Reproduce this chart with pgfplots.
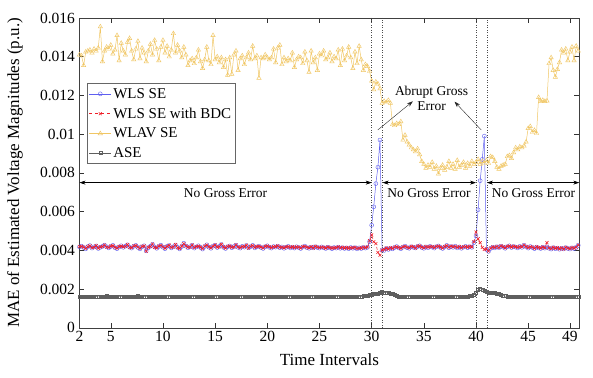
\documentclass[border=0pt]{standalone}
\usepackage{fontspec}
\setmainfont{Liberation Serif}
\usepackage{pgfplots}
\pgfplotsset{compat=1.18}
\usepackage{pgfplotstable}
\usetikzlibrary{arrows.meta}

\definecolor{wlsblue}{RGB}{95,95,240}
\definecolor{bdcred}{RGB}{240,30,40}
\definecolor{wlavyel}{RGB}{240,198,100}
\definecolor{asegray}{RGB}{95,95,95}

% values of the y columns in units of 1e-3 p.u.
\pgfplotstableread{
x wls bdc wlav ase
2.0 4.18 4.20 14.10 1.62
2.2 4.22 4.21 14.05 1.60
2.4 4.15 4.17 13.55 1.61
2.6 4.08 4.10 14.25 1.63
2.8 4.20 4.19 14.30 1.62
3.0 4.25 4.24 14.35 1.60
3.2 4.12 4.14 14.20 1.61
3.4 4.18 4.16 14.40 1.63
3.6 4.23 4.25 14.30 1.62
3.8 4.10 4.12 14.45 1.60
4.0 4.16 4.18 15.55 1.61
4.2 4.21 4.20 13.75 1.63
4.4 4.27 4.28 14.30 1.62
4.6 4.19 4.17 14.50 1.64
4.8 4.13 4.15 14.40 1.62
5.0 4.20 4.22 14.60 1.61
5.2 4.26 4.24 14.15 1.60
5.4 4.14 4.16 14.35 1.62
5.6 4.09 4.11 15.10 1.63
5.8 4.18 4.20 13.80 1.61
6.0 4.24 4.22 14.70 1.62
6.2 4.16 4.18 14.30 1.60
6.4 4.22 4.21 14.10 1.61
6.6 4.29 4.30 14.75 1.63
6.8 4.17 4.15 14.95 1.62
7.0 4.12 4.14 14.30 1.60
7.2 4.21 4.23 13.85 1.61
7.4 4.26 4.25 14.40 1.62
7.6 4.15 4.17 14.80 1.64
7.8 4.08 4.10 13.90 1.62
8.0 4.19 4.21 14.45 1.60
8.2 4.24 4.23 14.20 1.61
8.4 3.98 3.96 13.75 1.63
8.6 4.14 4.16 14.30 1.62
8.8 4.22 4.20 14.65 1.60
9.0 4.31 4.33 14.10 1.61
9.2 4.18 4.16 14.85 1.62
9.4 4.11 4.13 14.40 1.60
9.6 4.20 4.22 13.80 1.61
9.8 4.27 4.26 14.50 1.63
10.0 4.17 4.19 14.85 1.62
10.2 4.09 4.11 14.20 1.61
10.4 4.21 4.20 14.55 1.60
10.6 4.25 4.27 14.00 1.62
10.8 4.13 4.15 14.35 1.61
11.0 4.19 4.18 15.20 1.63
11.2 4.28 4.30 14.20 1.62
11.4 4.16 4.14 14.60 1.60
11.6 4.08 4.10 14.30 1.61
11.8 4.20 4.22 13.95 1.62
12.0 4.37 4.35 14.50 1.61
12.2 4.22 4.24 14.10 1.63
12.4 4.14 4.16 13.55 1.62
12.6 4.19 4.17 13.80 1.60
12.8 4.26 4.28 13.90 1.61
13.0 4.12 4.14 13.65 1.62
13.2 4.18 4.20 13.95 1.61
13.4 4.24 4.22 14.35 1.60
13.6 4.15 4.17 13.75 1.62
13.8 4.07 4.09 13.40 1.61
14.0 4.20 4.22 13.85 1.63
14.2 4.29 4.28 14.50 1.62
14.4 4.17 4.19 13.80 1.60
14.6 4.11 4.13 13.60 1.61
14.8 4.22 4.21 15.10 1.62
15.0 4.26 4.28 13.85 1.61
15.2 4.15 4.17 14.00 1.60
15.4 4.21 4.19 13.70 1.62
15.6 4.30 4.32 13.95 1.61
15.8 4.16 4.18 13.45 1.60
16.0 4.10 4.12 13.85 1.62
16.2 4.19 4.21 13.05 1.61
16.4 4.23 4.22 13.95 1.63
16.6 4.14 4.16 13.10 1.62
16.8 4.20 4.18 14.10 1.60
17.0 4.27 4.29 14.30 1.61
17.2 4.16 4.18 13.30 1.62
17.4 4.12 4.14 13.90 1.61
17.6 4.21 4.20 14.05 1.60
17.8 4.17 4.19 13.60 1.62
18.0 4.25 4.27 13.95 1.61
18.2 4.14 4.12 14.20 1.60
18.4 4.19 4.21 13.85 1.62
18.6 4.26 4.25 14.55 1.61
18.8 4.13 4.15 13.90 1.60
19.0 4.18 4.20 14.05 1.62
19.2 4.22 4.21 12.90 1.61
19.4 4.15 4.17 13.95 1.60
19.6 4.10 4.12 13.90 1.62
19.8 4.19 4.21 14.10 1.61
20.0 4.24 4.23 13.95 1.60
20.2 4.16 4.18 13.85 1.61
20.4 4.12 4.14 13.95 1.62
20.6 4.20 4.19 14.40 1.61
20.8 4.17 4.19 13.70 1.60
21.0 4.22 4.24 14.45 1.61
21.2 4.14 4.16 14.60 1.62
21.4 4.18 4.17 13.60 1.61
21.6 4.11 4.13 13.95 1.60
21.8 4.16 4.18 13.75 1.61
22.0 4.21 4.20 13.90 1.62
22.2 4.13 4.15 13.80 1.61
22.4 4.17 4.19 14.20 1.60
22.6 4.12 4.14 13.45 1.61
22.8 4.19 4.18 13.85 1.62
23.0 4.15 4.17 14.00 1.61
23.2 4.10 4.12 13.95 1.60
23.4 4.18 4.20 13.65 1.61
23.6 4.22 4.21 14.25 1.62
23.8 4.14 4.16 13.80 1.61
24.0 4.11 4.13 13.20 1.60
24.2 4.17 4.19 14.30 1.61
24.4 4.13 4.12 13.70 1.60
24.6 4.19 4.21 13.95 1.61
24.8 4.15 4.17 13.30 1.62
25.0 4.12 4.14 14.15 1.61
25.2 4.18 4.17 14.05 1.60
25.4 4.14 4.16 14.30 1.61
25.6 4.10 4.12 13.85 1.62
25.8 4.16 4.18 13.95 1.61
26.0 4.13 4.15 14.20 1.60
26.2 4.09 4.11 13.75 1.61
26.4 4.15 4.14 14.00 1.60
26.6 4.12 4.14 13.90 1.61
26.8 4.17 4.19 14.35 1.62
27.0 4.11 4.13 13.55 1.61
27.2 4.14 4.16 14.40 1.60
27.4 4.10 4.12 13.80 1.61
27.6 4.13 4.15 14.05 1.62
27.8 4.09 4.11 14.50 1.61
28.0 4.15 4.14 13.95 1.60
28.2 4.11 4.13 13.40 1.61
28.4 4.14 4.16 14.25 1.62
28.6 4.08 4.10 13.65 1.61
28.8 4.13 4.12 14.55 1.62
29.0 4.10 4.12 13.85 1.63
29.2 4.15 4.17 13.30 1.64
29.4 4.12 4.14 13.60 1.66
29.6 4.16 4.18 13.50 1.68
29.8 4.45 4.50 13.25 1.70
30.0 5.30 4.80 12.75 1.72
30.2 6.25 4.45 12.30 1.74
30.4 7.45 4.35 12.70 1.75
30.6 8.30 3.90 12.60 1.77
30.8 9.70 3.75 12.35 1.80
31.0 4.02 4.02 11.60 1.85
31.2 4.00 4.05 11.70 1.83
31.4 4.10 4.12 11.65 1.82
31.6 4.05 4.07 11.75 1.80
31.8 4.12 4.14 11.60 1.78
32.0 4.08 4.10 10.50 1.74
32.2 4.15 4.17 10.45 1.70
32.4 4.20 4.19 10.55 1.66
32.6 4.13 4.15 10.50 1.63
32.8 4.09 4.11 10.65 1.62
33.0 4.17 4.19 9.70 1.61
33.2 4.22 4.21 9.95 1.60
33.4 4.14 4.16 9.60 1.61
33.6 4.11 4.13 9.45 1.62
33.8 4.19 4.21 9.30 1.61
34.0 4.16 4.18 9.20 1.60
34.2 4.13 4.12 9.10 1.61
34.4 4.20 4.22 9.25 1.62
34.6 4.24 4.23 8.95 1.61
34.8 4.15 4.17 8.60 1.60
35.0 4.11 4.13 8.45 1.61
35.2 4.18 4.20 8.25 1.62
35.4 4.14 4.16 8.40 1.61
35.6 4.21 4.20 8.30 1.60
35.8 4.17 4.19 8.55 1.61
36.0 4.12 4.14 8.20 1.62
36.2 4.19 4.21 8.35 1.61
36.4 4.23 4.22 7.95 1.60
36.6 4.15 4.17 8.25 1.61
36.8 4.10 4.12 8.40 1.62
37.0 4.18 4.20 8.15 1.61
37.2 4.26 4.25 8.30 1.60
37.4 4.14 4.16 8.60 1.61
37.6 4.20 4.22 8.25 1.62
37.8 4.16 4.18 8.45 1.61
38.0 4.22 4.21 8.20 1.60
38.2 4.13 4.15 8.65 1.61
38.4 4.18 4.20 8.30 1.62
38.6 4.11 4.13 8.40 1.63
38.8 4.17 4.19 8.55 1.62
39.0 4.21 4.20 8.25 1.61
39.2 4.14 4.16 8.50 1.62
39.4 4.19 4.21 8.35 1.64
39.6 4.16 4.18 8.60 1.66
39.8 4.40 4.45 8.45 1.70
40.0 4.75 4.95 8.55 1.82
40.2 6.10 4.60 8.70 1.95
40.4 7.60 4.40 8.45 2.04
40.6 8.70 4.15 8.60 1.98
40.8 9.90 4.05 8.50 1.90
41.0 4.05 4.08 8.65 1.86
41.2 3.95 3.97 8.50 1.84
41.4 4.10 4.12 8.85 1.83
41.6 4.16 4.18 8.80 1.82
41.8 4.13 4.15 8.60 1.80
42.0 4.19 4.21 8.30 1.78
42.2 4.15 4.14 8.20 1.74
42.4 4.22 4.24 8.35 1.70
42.6 4.17 4.19 8.40 1.67
42.8 4.11 4.13 8.45 1.64
43.0 4.19 4.21 8.85 1.63
43.2 4.24 4.23 8.90 1.62
43.4 4.15 4.17 8.75 1.61
43.6 4.20 4.22 9.05 1.60
43.8 4.17 4.19 9.30 1.61
44.0 4.13 4.15 9.20 1.62
44.2 4.21 4.20 9.35 1.61
44.4 4.16 4.18 9.30 1.60
44.6 4.26 4.28 9.40 1.62
44.8 4.18 4.20 9.60 1.61
45.0 4.12 4.14 10.30 1.60
45.2 4.20 4.19 10.40 1.61
45.4 4.15 4.17 10.10 1.62
45.6 4.09 4.11 10.20 1.61
45.8 4.17 4.19 10.05 1.60
46.0 4.13 4.15 11.90 1.61
46.2 4.10 4.12 11.70 1.62
46.4 4.16 4.18 11.75 1.61
46.6 4.12 4.14 11.70 1.60
46.8 4.18 4.40 11.72 1.61
47.0 4.11 4.13 13.65 1.60
47.2 4.07 4.09 13.95 1.61
47.4 4.14 4.16 13.30 1.62
47.6 4.09 4.11 12.95 1.61
47.8 4.12 4.14 13.35 1.60
48.0 4.06 4.08 13.70 1.61
48.2 4.11 4.13 14.35 1.62
48.4 4.08 4.07 14.20 1.61
48.6 4.14 4.16 14.40 1.60
48.8 4.10 4.12 13.80 1.61
49.0 4.07 4.09 14.25 1.62
49.2 4.13 4.15 14.50 1.61
49.4 4.09 4.11 13.80 1.60
49.6 4.15 4.17 14.55 1.61
49.8 4.26 4.28 14.30 1.62
}\data

\begin{document}
\begin{tikzpicture}
\begin{axis}[
  scale only axis, width=500pt, height=310pt,
  xmin=2, xmax=49.9, ymin=0, ymax=16,
  xtick={2,5,10,15,20,25,30,35,40,45,49},
  ytick={0,2,4,6,8,10,12,14,16},
  yticklabels={0,0.002,0.004,0.006,0.008,0.01,0.012,0.014,0.016},
  tick align=inside, major tick length=5pt,
  tick style={black!80, line width=0.5pt},
  axis line style={black!75, line width=0.5pt},
  /pgf/number format/assume math mode=true,
  ticklabel style={font=\fontsize{15.5}{17}\selectfont},
  yticklabel style={xshift=-1pt},
  xlabel={Time Intervals},
  ylabel={MAE of Estimated Voltage Magnitudes (p.u.)},
  every axis y label/.style={at={(axis description cs:-0.129,0.5)}, rotate=90, anchor=center, font=\fontsize{17}{19}\selectfont},
  every axis x label/.style={at={(axis description cs:0.5,-0.104)}, anchor=center, font=\fontsize{17}{19}\selectfont},
  legend style={at={(axis description cs:0.015,0.789)}, anchor=north west,
    font=\fontsize{15}{16.5}\selectfont, draw=black!60, line width=0.5pt,
    row sep=4.2pt, inner xsep=2pt, inner ysep=2.5pt},
  legend cell align=left,
  legend image code/.code={\draw[mark repeat=2,mark phase=2] plot coordinates {(0cm,0cm) (0.38cm,0cm) (0.76cm,0cm)};},
]
\addplot[wlsblue, line width=0.5pt, mark=o, mark size=2pt, mark options={line width=0.4pt}] table[x=x,y=wls]{\data};
\addlegendentry{WLS SE}
\addplot[bdcred, dashed, line width=0.5pt, mark=x, mark size=2.1pt, mark options={solid, line width=0.6pt}] table[x=x,y=bdc]{\data};
\addlegendentry{WLS SE with BDC}
\addplot[wlavyel, line width=0.5pt, mark=triangle, mark size=2.5pt, mark options={line width=0.45pt}] table[x=x,y=wlav]{\data};
\addlegendentry{WLAV SE}
\addplot[asegray, line width=0.5pt, mark=square, mark size=1.5pt, mark options={line width=0.4pt}] table[x=x,y=ase]{\data};
\addlegendentry{ASE}

\draw[black!70, dotted, line width=0.5pt] (axis cs:30,0) -- (axis cs:30,16);
\draw[black!70, dotted, line width=0.5pt] (axis cs:31.05,0) -- (axis cs:31.05,16);
\draw[black!70, dotted, line width=0.5pt] (axis cs:40,0) -- (axis cs:40,16);
\draw[black!70, dotted, line width=0.5pt] (axis cs:41.05,0) -- (axis cs:41.05,16);

\draw[{Stealth[length=6pt,width=4pt]}-{Stealth[length=6pt,width=4pt]}, line width=0.5pt] (axis cs:2,7.5) -- (axis cs:30,7.5);
\draw[{Stealth[length=6pt,width=4pt]}-{Stealth[length=6pt,width=4pt]}, line width=0.5pt] (axis cs:31.05,7.5) -- (axis cs:40,7.5);
\draw[{Stealth[length=6pt,width=4pt]}-{Stealth[length=6pt,width=4pt]}, line width=0.5pt] (axis cs:41.05,7.5) -- (axis cs:49.9,7.5);
\node[font=\fontsize{13.5}{15}\selectfont] at (axis cs:16,6.95) {No Gross Error};
\node[font=\fontsize{13.5}{15}\selectfont] at (axis cs:35.5,6.95) {No Gross Error};
\node[font=\fontsize{13.5}{15}\selectfont] at (axis cs:45.5,6.95) {No Gross Error};

\node[font=\fontsize{13.5}{15.5}\selectfont, align=center] at (axis cs:35.74,11.85) {Abrupt Gross\\Error};
\draw[-{Stealth[length=6pt,width=4pt]}, line width=0.4pt, black!85] (axis cs:30.59,10.22) -- (axis cs:33.95,11.7);
\draw[-{Stealth[length=6pt,width=4pt]}, line width=0.4pt, black!85] (axis cs:40.5,10.22) -- (axis cs:37.94,11.68);
\end{axis}
\pgfresetboundingbox
\path (current axis.south west) ++(-79.5pt,-49.3pt) coordinate (bl);
\path (current axis.north east) ++(13.7pt,18pt) coordinate (tr);
\useasboundingbox (bl) rectangle (tr);
\end{tikzpicture}
\end{document}
